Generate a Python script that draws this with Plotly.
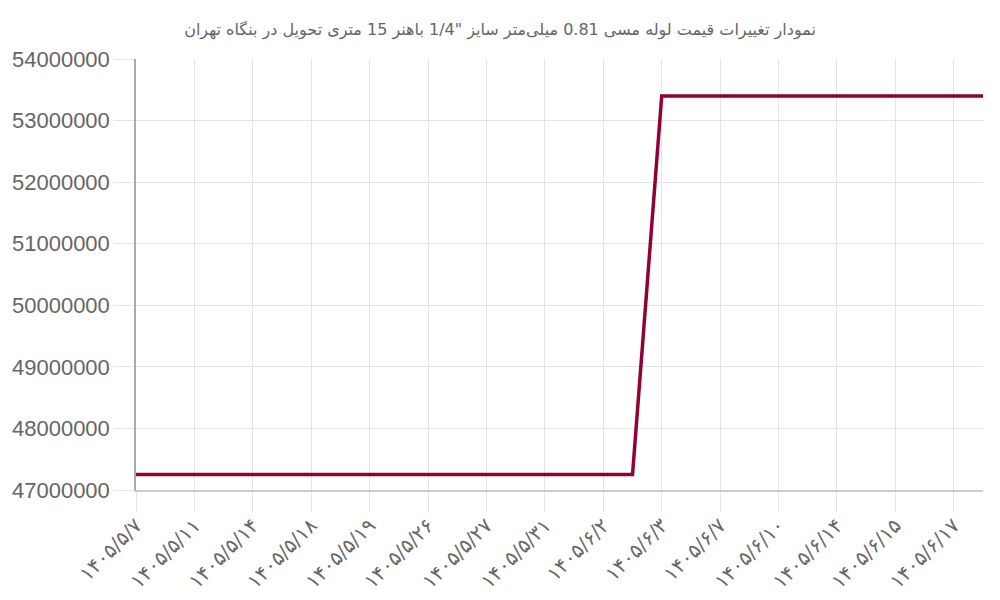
import plotly.graph_objects as go

# Persian dates (every other one is shown on the axis)
dates = [
    "۱۴۰۵/۵/۷", "۱۴۰۵/۵/۱۰", "۱۴۰۵/۵/۱۱", "۱۴۰۵/۵/۱۳", "۱۴۰۵/۵/۱۴",
    "۱۴۰۵/۵/۱۷", "۱۴۰۵/۵/۱۸", "۱۴۰۵/۵/۱۸", "۱۴۰۵/۵/۱۹", "۱۴۰۵/۵/۲۵",
    "۱۴۰۵/۵/۲۶", "۱۴۰۵/۵/۲۶", "۱۴۰۵/۵/۲۷", "۱۴۰۵/۵/۲۸", "۱۴۰۵/۵/۳۱",
    "۱۴۰۵/۶/۱", "۱۴۰۵/۶/۲", "۱۴۰۵/۶/۲", "۱۴۰۵/۶/۳", "۱۴۰۵/۶/۴",
    "۱۴۰۵/۶/۷", "۱۴۰۵/۶/۹", "۱۴۰۵/۶/۱۰", "۱۴۰۵/۶/۱۱", "۱۴۰۵/۶/۱۴",
    "۱۴۰۵/۶/۱۴", "۱۴۰۵/۶/۱۵", "۱۴۰۵/۶/۱۶", "۱۴۰۵/۶/۱۷", "۱۴۰۵/۶/۱۸",
]

prices = [
    47250000, 47250000, 47250000, 47250000, 47250000,
    47250000, 47250000, 47250000, 47250000, 47250000,
    47250000, 47250000, 47250000, 47250000, 47250000,
    47250000, 47250000, 47250000, 53400000, 53400000,
    53400000, 53400000, 53400000, 53400000, 53400000,
    53400000, 53400000, 53400000, 53400000, 53400000,
]

title = 'نمودار تغییرات قیمت لوله مسی 0.81 میلی‌متر سایز "1/4 باهنر 15 متری تحویل در بنگاه تهران'

x = list(range(len(dates)))

fig = go.Figure(
    go.Scatter(
        x=x,
        y=prices,
        mode="lines",
        line=dict(color="#930036", width=3.5),
        hovertemplate="%{y}<extra></extra>",
    )
)

# page body has an 8px margin, so the figure is a bit smaller than the window
fig.update_layout(
    width=984,
    height=584,
    title=dict(
        text=title,
        x=0.5,
        xanchor="center",
        y=0.963,
        yanchor="middle",
        font=dict(size=16, color="#666666", family="DejaVu Sans, Liberation Sans"),
    ),
    margin=dict(l=128, r=9, t=51, b=102),
    plot_bgcolor="white",
    paper_bgcolor="white",
    showlegend=False,
    font=dict(family="Liberation Sans, DejaVu Sans", color="#666666"),
)

fig.update_xaxes(
    range=[0, len(dates) - 1],
    tickvals=x[::2],
    ticktext=dates[::2],
    tickangle=-45,
    tickfont=dict(size=20, color="#666666", family="DejaVu Sans"),
    ticklabelstandoff=-6,
    showgrid=True,
    gridcolor="#e4e4e4",
    gridwidth=1,
    ticks="outside",
    ticklen=20,
    tickcolor="#e4e4e4",
    showline=True,
    linecolor="#cccccc",
    linewidth=1.5,
    zeroline=False,
    automargin=False,
)

fig.update_yaxes(
    range=[47000000, 54000000],
    dtick=1000000,
    tickformat="d",
    tickfont=dict(size=22, color="#666666"),
    showgrid=True,
    gridcolor="#e4e4e4",
    gridwidth=1,
    ticks="outside",
    ticklen=20,
    tickcolor="#e4e4e4",
    showline=True,
    linecolor="#aaaaaa",
    linewidth=1.5,
    zeroline=False,
    automargin=False,
)

fig.write_html("out.html")
